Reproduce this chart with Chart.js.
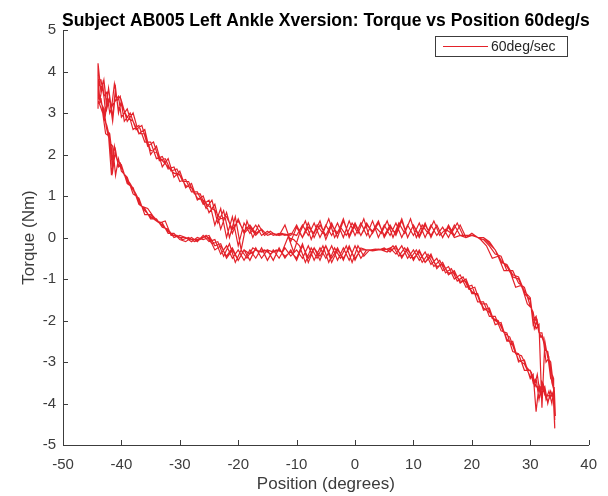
<!DOCTYPE html>
<html>
<head>
<meta charset="utf-8">
<script src="https://cdn.jsdelivr.net/npm/chart.js@4.4.1/dist/chart.umd.min.js"></script>
<style>
  body { margin: 0; background: #fff; }
  #wrap { width: 608px; height: 496px; }
</style>
</head>
<body>
<div id="wrap"><canvas id="torquePlot" width="608" height="496"></canvas></div>
<script>
const titleText = 'Subject AB005 Left Ankle Xversion: Torque vs Position 60deg/s';
const legendLabel = '60deg/sec';
const xTitle = 'Position (degrees)';
const yTitle = 'Torque (Nm)';

// position samples, upper branch (left -> right)
const upperPos = [
  -44, -44, -43.5, -43, -42.5, -42, -41.5, -41, -40.5, -40,
  -39, -38, -37, -36, -35, -34, -33, -32, -31, -30,
  -29, -28, -27, -26, -25, -24, -23, -22, -21, -20,
  -19, -18, -17, -16, -15, -14, -13, -12, -11, -10,
  -9, -8, -7, -6, -5, -4, -3, -2, -1, 0,
  1, 2, 3, 4, 5, 6, 7, 8, 9, 10,
  11, 12, 13, 14, 15, 16, 17, 18, 19, 20,
  21, 22, 23, 24, 25, 26, 27, 28, 29, 30,
  30.5, 31, 31.5, 32, 32.5, 33, 33.5, 34, 34, 34.2
];

// position samples, lower branch (right -> left)
const lowerPos = [
  34, 33.5, 33, 32.5, 32, 31.5, 31, 30.5, 30, 29,
  28, 27, 26, 25, 24, 23, 22, 21, 20, 19,
  18, 17, 16, 15, 14, 13, 12, 11, 10, 9,
  8, 7, 6, 5, 4, 3, 2, 1, 0, -1,
  -2, -3, -4, -5, -6, -7, -8, -9, -10, -11,
  -12, -13, -14, -15, -16, -17, -18, -19, -20, -21,
  -22, -23, -24, -25, -26, -27, -28, -29, -30, -31,
  -32, -33, -34, -35, -36, -37, -38, -39, -40, -40.5,
  -41, -41.5, -42, -42.5, -43, -43.5, -44
];

// the 4th cycle was sampled half a degree off
const upperPosB = [
  -44, -44, -43.7, -43.2, -42.7, -42.2, -41.7, -41.2, -40.7, -40.2,
  -39.5, -38.5, -37.5, -36.5, -35.5, -34.5, -33.5, -32.5, -31.5, -30.5,
  -29.5, -28.5, -27.5, -26.5, -25.5, -24.5, -23.5, -22.5, -21.5, -20.5,
  -19.5, -18.5, -17.5, -16.5, -15.5, -14.5, -13.5, -12.5, -11.5, -10.5,
  -9.5, -8.5, -7.5, -6.5, -5.5, -4.5, -3.5, -2.5, -1.5, -0.5,
  0.5, 1.5, 2.5, 3.5, 4.5, 5.5, 6.5, 7.5, 8.5, 9.5,
  10.5, 11.5, 12.5, 13.5, 14.5, 15.5, 16.5, 17.5, 18.5, 19.5,
  20.5, 21.5, 22.5, 23.5, 24.5, 25.5, 26.5, 27.5, 28.5, 29.5,
  30.2, 30.7, 31.2, 31.7, 32.2, 32.7, 33.2, 33.7, 34.1, 34.3
];
const lowerPosB = [
  34.1, 33.7, 33.2, 32.7, 32.2, 31.7, 31.2, 30.7, 30.2, 29.5,
  28.5, 27.5, 26.5, 25.5, 24.5, 23.5, 22.5, 21.5, 20.5, 19.5,
  18.5, 17.5, 16.5, 15.5, 14.5, 13.5, 12.5, 11.5, 10.5, 9.5,
  8.5, 7.5, 6.5, 5.5, 4.5, 3.5, 2.5, 1.5, 0.5, -0.5,
  -1.5, -2.5, -3.5, -4.5, -5.5, -6.5, -7.5, -8.5, -9.5, -10.5,
  -11.5, -12.5, -13.5, -14.5, -15.5, -16.5, -17.5, -18.5, -19.5, -20.5,
  -21.5, -22.5, -23.5, -24.5, -25.5, -26.5, -27.5, -28.5, -29.5, -30.5,
  -31.5, -32.5, -33.5, -34.5, -35.5, -36.5, -37.5, -38.5, -39.5, -40.2,
  -40.7, -41.2, -41.7, -42.2, -42.7, -43.2, -43.7, -44
];

// torque, cycle 1
const upper1 = [
  3.1, 4.2, 3.5, 3.8, 3.1, 3.4, 2.9, 3.6, 3.0, 3.3,
  2.8, 3.0, 2.5, 2.6, 2.0, 2.2, 1.7, 1.9, 1.45, 1.6,
  1.2, 1.3, 0.9, 1.0, 0.6, 0.8, 0.2, 0.6, 0.1, 0.45,
  0.1, 0.25, 0.05, 0.2, 0.05, 0.1, 0.05, 0.08, 0.05, 0.3,
  0.0, 0.25, 0.1, 0.4, -0.05, 0.3, 0.1, 0.45, 0.0, 0.3,
  0.05, 0.35, 0.1, 0.35, 0.05, 0.3, 0.05, 0.4, 0.0, 0.3,
  0.05, 0.35, 0.0, 0.3, 0.0, 0.25, 0.0, 0.05, 0.05, 0.05,
  0.0, 0.0, -0.1, -0.3, -0.6, -0.65, -0.9, -0.95, -1.3, -1.45,
  -2.0, -1.9, -2.3, -2.3, -2.7, -2.75, -3.2, -3.4, -3.8, -4.3
];
const lower1 = [
  -3.9, -3.7, -4.0, -3.6, -3.75, -3.55, -4.2, -3.3, -3.4, -2.95,
  -3.0, -2.5, -2.5, -2.05, -2.1, -1.7, -1.75, -1.35, -1.35, -1.0,
  -1.1, -0.8, -0.9, -0.6, -0.75, -0.4, -0.6, -0.3, -0.55, -0.25,
  -0.5, -0.2, -0.35, -0.25, -0.3, -0.3, -0.3, -0.25, -0.55, -0.2,
  -0.55, -0.25, -0.5, -0.2, -0.55, -0.25, -0.5, -0.2, -0.55, -0.3,
  -0.5, -0.25, -0.55, -0.3, -0.5, -0.25, -0.55, -0.3, -0.55, -0.25,
  -0.45, -0.2, -0.3, 0.0, -0.05, 0.0, -0.1, 0.0, 0.05, 0.0,
  0.2, 0.25, 0.45, 0.45, 0.7, 0.8, 1.2, 1.3, 1.75, 1.7,
  2.1, 1.6, 2.4, 2.7, 2.9, 3.35, 3.5
];

// torque, cycle 2
const upper2 = [
  3.3, 3.8, 3.8, 3.4, 3.5, 3.0, 3.2, 3.3, 3.4, 2.9,
  3.1, 2.6, 2.7, 2.3, 2.3, 1.9, 1.95, 1.65, 1.7, 1.35,
  1.4, 1.1, 1.1, 0.8, 0.9, 0.3, 0.7, 0.0, 0.5, -0.2,
  0.35, 0.1, 0.3, 0.05, 0.15, 0.05, 0.1, 0.05, 0.1, 0.05,
  0.3, 0.05, 0.35, 0.0, 0.3, 0.05, 0.35, 0.0, 0.4, 0.05,
  0.35, 0.05, 0.4, 0.0, 0.3, 0.05, 0.35, 0.0, 0.3, 0.05,
  0.35, 0.0, 0.3, 0.05, 0.25, 0.0, 0.3, 0.05, 0.0, 0.05,
  0.0, -0.05, -0.2, -0.4, -0.45, -0.8, -0.8, -1.1, -1.2, -1.65,
  -1.8, -2.2, -2.1, -4.1, -2.5, -2.9, -3.0, -3.6, -4.0, -4.6
];
const lower2 = [
  -3.7, -3.85, -3.8, -3.8, -3.5, -3.9, -3.4, -3.5, -3.2, -3.2,
  -2.8, -2.75, -2.3, -2.25, -1.9, -1.9, -1.55, -1.55, -1.15, -1.2,
  -0.9, -1.0, -0.7, -0.8, -0.5, -0.65, -0.35, -0.55, -0.3, -0.5,
  -0.2, -0.4, -0.25, -0.3, -0.28, -0.3, -0.3, -0.5, -0.2, -0.55,
  -0.25, -0.55, -0.2, -0.5, -0.25, -0.55, -0.2, -0.5, -0.3, -0.45,
  -0.25, -0.5, -0.3, -0.55, -0.25, -0.5, -0.3, -0.55, -0.3, -0.5,
  -0.2, -0.4, -0.05, -0.1, 0.05, -0.1, 0.0, -0.1, -0.05, 0.1,
  0.1, 0.35, 0.4, 0.55, 0.55, 0.95, 1.05, 1.45, 1.6, 1.9,
  1.5, 2.2, 2.3, 2.6, 3.1, 3.25, 3.4
];

// torque, cycle 3
const upper3 = [
  3.4, 3.8, 3.6, 3.8, 3.2, 3.3, 2.8, 3.5, 3.1, 3.2,
  2.9, 2.8, 2.5, 2.5, 2.1, 2.05, 1.85, 1.7, 1.55, 1.5,
  1.25, 1.2, 0.95, 0.9, 0.75, 0.65, 0.45, 0.5, 0.2, 0.4,
  0.15, 0.3, 0.1, 0.2, 0.05, 0.1, 0.05, 0.3, -0.1, 0.25,
  0.0, 0.35, 0.0, 0.3, 0.05, 0.35, 0.0, 0.4, 0.05, 0.35,
  0.05, 0.3, 0.15, 0.4, 0.0, 0.25, 0.1, 0.45, 0.0, 0.3,
  0.0, 0.3, 0.05, 0.3, 0.0, 0.3, 0.05, 0.3, 0.0, 0.1,
  0.0, 0.0, -0.15, -0.3, -0.55, -0.7, -0.95, -1.0, -1.35, -1.5,
  -2.1, -1.95, -2.3, -2.4, -2.6, -2.85, -3.4, -3.5, -3.9, -4.4
];
const lower3 = [
  -3.8, -3.8, -3.95, -3.7, -3.6, -3.6, -3.6, -3.35, -3.35, -3.05,
  -2.95, -2.6, -2.45, -2.1, -2.0, -1.8, -1.7, -1.4, -1.3, -1.05,
  -1.05, -0.85, -0.85, -0.65, -0.7, -0.45, -0.6, -0.35, -0.5, -0.3,
  -0.45, -0.25, -0.3, -0.28, -0.3, -0.32, -0.3, -0.3, -0.5, -0.25,
  -0.5, -0.3, -0.6, -0.2, -0.45, -0.25, -0.6, -0.15, -0.5, -0.35,
  -0.45, -0.3, -0.35, -0.3, -0.35, -0.3, -0.4, -0.3, -0.55, -0.3,
  -0.5, -0.15, -0.2, 0.05, 0.0, -0.05, -0.05, 0.0, 0.0, 0.05,
  0.15, 0.3, 0.4, 0.5, 0.65, 0.85, 1.15, 1.35, 1.7, 1.75,
  2.0, 1.9, 2.5, 2.6, 3.0, 3.3, 3.45
];

// torque, cycle 4
const upper4 = [
  3.5, 3.9, 3.3, 3.7, 3.0, 3.6, 3.1, 3.7, 3.3, 3.4,
  2.8, 3.0, 2.6, 2.7, 2.2, 2.3, 1.85, 1.9, 1.6, 1.65,
  1.35, 1.35, 1.05, 1.05, 0.7, 0.9, 0.35, 0.65, 0.0, 0.5,
  -0.3, 0.4, 0.0, 0.3, 0.05, 0.15, 0.05, 0.1, 0.05, -0.35,
  0.1, 0.4, -0.05, 0.3, 0.1, 0.45, 0.0, 0.25, 0.05, 0.35,
  0.1, 0.45, 0.0, 0.25, 0.1, 0.4, 0.0, 0.35, 0.1, 0.45,
  0.0, 0.3, 0.1, 0.4, 0.05, 0.2, 0.1, 0.35, 0.05, 0.05,
  0.05, -0.05, -0.2, -0.5, -0.45, -0.8, -0.8, -1.2, -1.15, -1.6,
  -1.7, -2.2, -2.0, -2.4, -2.4, -3.0, -2.9, -3.5, -3.7, -4.3
];
const lower4 = [
  -3.6, -4.0, -3.7, -3.9, -3.5, -3.8, -3.3, -3.6, -3.25, -3.15,
  -2.85, -2.8, -2.4, -2.3, -2.0, -1.95, -1.6, -1.6, -1.2, -1.25,
  -0.95, -1.05, -0.75, -0.85, -0.55, -0.7, -0.4, -0.6, -0.3, -0.5,
  -0.25, -0.45, -0.2, -0.35, -0.3, -0.28, -0.3, -0.45, -0.2, -0.6,
  -0.2, -0.5, -0.25, -0.6, -0.2, -0.5, -0.25, -0.6, -0.2, -0.05,
  0.0, -0.35, -0.3, -0.4, -0.3, -0.35, -0.25, -0.5, -0.3, -0.6,
  -0.15, -0.45, -0.1, -0.15, 0.05, -0.05, -0.1, 0.0, -0.05, 0.05,
  0.05, 0.4, 0.35, 0.5, 0.7, 0.75, 1.05, 1.3, 1.5, 1.8,
  1.85, 2.2, 1.5, 2.45, 2.5, 3.0, 3.2, 3.3
];

const xTicks = [-50, -40, -30, -20, -10, 0, 10, 20, 30, 40];
const yTicks = [-5, -4, -3, -2, -1, 0, 1, 2, 3, 4, 5];

const lineColor = '#e3222a';
const axisColor = '#3c3c3c';
const fontFamily = "'Liberation Sans', Arial, Helvetica, sans-serif";

function toPoints(pos, torque) {
  return pos.map((p, i) => ({ x: p, y: torque[i] }));
}

const points = [].concat(
  toPoints(upperPos, upper1), toPoints(lowerPos, lower1),
  toPoints(upperPos, upper2), toPoints(lowerPos, lower2),
  toPoints(upperPos, upper3), toPoints(lowerPos, lower3),
  toPoints(upperPosB, upper4), toPoints(lowerPosB, lower4)
);

// matlab look: inward ticks, centred title, boxed legend
const matlabAxes = {
  id: 'matlabAxes',
  afterDraw(chart) {
    const { ctx, chartArea: area, scales: { x, y } } = chart;
    ctx.save();
    ctx.strokeStyle = axisColor;
    ctx.lineWidth = 1;
    ctx.beginPath();
    xTicks.forEach(v => {
      const px = Math.round(x.getPixelForValue(v)) + 0.5;
      ctx.moveTo(px, area.bottom);
      ctx.lineTo(px, area.bottom - 5);
    });
    yTicks.forEach(v => {
      const py = Math.round(y.getPixelForValue(v)) + 0.5;
      ctx.moveTo(area.left, py);
      ctx.lineTo(area.left + 5, py);
    });
    ctx.stroke();

    ctx.fillStyle = '#000';
    ctx.font = 'bold 17.5px ' + fontFamily;
    ctx.textAlign = 'center';
    ctx.textBaseline = 'alphabetic';
    ctx.fillText(titleText, (area.left + area.right) / 2, 26);

    // legend box
    ctx.fillStyle = '#fff';
    ctx.fillRect(435.5, 36.5, 132, 20);
    ctx.strokeStyle = axisColor;
    ctx.strokeRect(435.5, 36.5, 132, 20);
    ctx.strokeStyle = lineColor;
    ctx.beginPath();
    ctx.moveTo(443, 46.5);
    ctx.lineTo(488, 46.5);
    ctx.stroke();
    ctx.fillStyle = '#262626';
    ctx.font = '14px ' + fontFamily;
    ctx.textAlign = 'left';
    ctx.textBaseline = 'middle';
    ctx.fillText(chart.data.datasets[0].label, 491, 47);
    ctx.restore();
  }
};

new Chart('torquePlot', {
  type: 'scatter',
  data: {
    datasets: [{
      label: legendLabel,
      data: points,
      showLine: true,
      borderColor: lineColor,
      borderWidth: 1.2,
      pointRadius: 0,
      pointHoverRadius: 0,
      tension: 0
    }]
  },
  options: {
    responsive: false,
    animation: false,
    layout: { padding: { top: 30, right: 19, left: 0, bottom: 0 } },
    plugins: {
      legend: { display: false },
      tooltip: { enabled: false },
      title: { display: false }
    },
    scales: {
      x: {
        type: 'linear',
        min: -50,
        max: 40,
        afterBuildTicks: s => { s.ticks = xTicks.map(v => ({ value: v })); },
        ticks: { color: axisColor, font: { family: fontFamily, size: 15 }, padding: 11 },
        grid: { display: true, drawOnChartArea: false, drawTicks: false },
        border: { display: true, color: axisColor, width: 1 },
        title: { display: true, text: xTitle, color: axisColor, font: { family: fontFamily, size: 17 }, padding: { top: 0, bottom: 1 } },
        afterFit: s => { s.height = 51; }
      },
      y: {
        type: 'linear',
        min: -5,
        max: 5,
        afterBuildTicks: s => { s.ticks = yTicks.map(v => ({ value: v })); },
        ticks: { color: axisColor, font: { family: fontFamily, size: 15 }, padding: 7 },
        grid: { display: true, drawOnChartArea: false, drawTicks: false },
        border: { display: true, color: axisColor, width: 1 },
        title: { display: true, text: yTitle, color: axisColor, font: { family: fontFamily, size: 17 }, padding: { top: 19, bottom: 0 } },
        afterFit: s => { s.width = 63; }
      }
    }
  },
  plugins: [matlabAxes]
});
</script>
</body>
</html>
